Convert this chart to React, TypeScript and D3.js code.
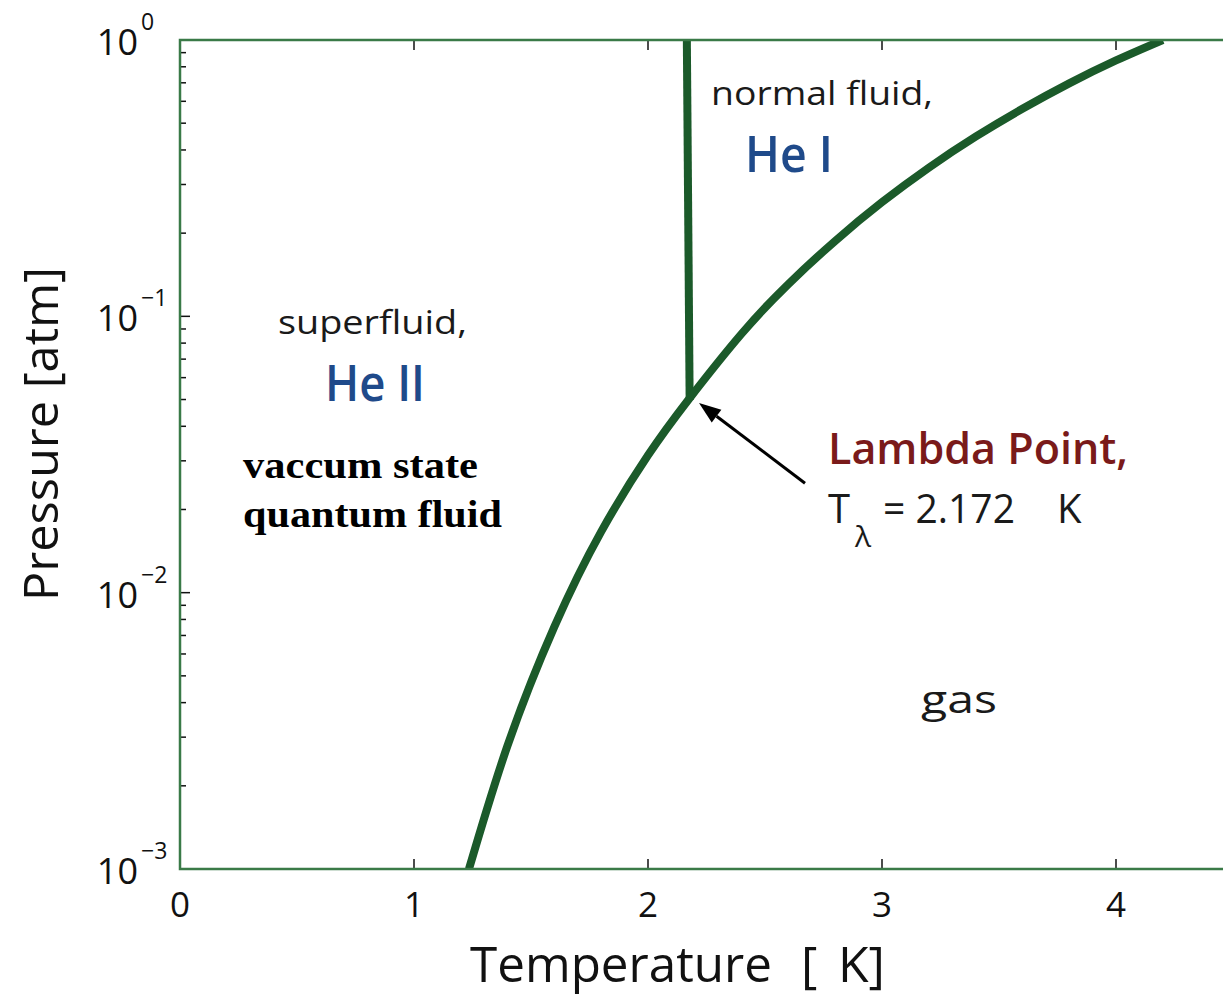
import React from "react";
import * as d3 from "d3";

// Vapor-pressure (liquid/gas) curve of helium-4
const vaporT = [1.235, 1.4, 1.6, 1.8, 2.0, 2.172, 2.4, 2.6, 2.8, 3.0, 3.2, 3.4, 3.6, 3.8, 4.0, 4.2];
const vaporP = [0.001, 0.0028, 0.00753, 0.01663, 0.0314, 0.0498, 0.0865, 0.1309, 0.1875, 0.2588, 0.3451, 0.4467, 0.5636, 0.6966, 0.8433, 1.0];

// Lambda line (He I / He II boundary)
const lambdaT = [2.178, 2.166];
const lambdaP = [0.0498, 1.0];

// Arrow pointing to the lambda point (tail, head)
const arrowT = [2.671, 2.218];
const arrowP = [0.0249, 0.0486];

const xTicks = [0, 1, 2, 3, 4];
const yDecades = [0, -1, -2, -3];

const W = 1223;
const H = 1000;
const LEFT = 180;
const TOP = 40;
const BOTTOM = 869;
const UNIT = 234;

const CURVE = "#1b5a2a";
const FRAME = "#3a7a47";
const SANS = "'Open Sans', 'Noto Sans', sans-serif";

export default function App() {
  const x = d3.scaleLinear().domain([0, 4.5]).range([LEFT, LEFT + 4.5 * UNIT]);
  const y = d3.scaleLog().domain([1e-3, 1]).range([BOTTOM, TOP]);

  const vaporPath =
    d3.line<number>()
      .x((i) => x(vaporT[i]))
      .y((i) => y(vaporP[i]))
      .curve(d3.curveNatural)(vaporT.map((_, i) => i)) || "";

  const lambdaPath =
    d3.line<number>()
      .x((i) => x(lambdaT[i]))
      .y((i) => y(lambdaP[i]))(lambdaT.map((_, i) => i)) || "";

  const minor: number[] = [];
  for (let e = -3; e < 0; e++) {
    for (let m = 2; m <= 9; m++) minor.push(m * Math.pow(10, e));
  }

  const ax0 = x(arrowT[0]);
  const ay0 = y(arrowP[0]);
  const ax1 = x(arrowT[1]);
  const ay1 = y(arrowP[1]);
  const ang = Math.atan2(ay1 - ay0, ax1 - ax0);
  const headLen = 22;
  const headW = 8;
  const bx = ax1 - headLen * Math.cos(ang);
  const by = ay1 - headLen * Math.sin(ang);
  const px = -Math.sin(ang);
  const py = Math.cos(ang);
  const head = `M${ax1},${ay1} L${bx + px * headW},${by + py * headW} L${bx - px * headW},${by - py * headW} Z`;

  return (
    <svg
      width={W}
      height={H}
      style={{ position: "absolute", left: 0, top: 0, background: "#fff" }}
      fontFamily={SANS}
    >
      <defs>
        <clipPath id="plotclip">
          <rect x={LEFT} y={TOP} width={W - LEFT + 20} height={BOTTOM - TOP} />
        </clipPath>
      </defs>
      <rect x={0} y={0} width={W} height={H} fill="#fff" />

      {/* ticks */}
      {xTicks.map((t) => (
        <g key={"xt" + t}>
          <line x1={x(t)} x2={x(t)} y1={BOTTOM} y2={BOTTOM - 10} stroke="#111" strokeWidth={1.5} />
          <line x1={x(t)} x2={x(t)} y1={TOP} y2={TOP + 10} stroke="#111" strokeWidth={1.5} />
          <text x={x(t)} y={917} textAnchor="middle" fontSize={35} fill="#111">
            {t}
          </text>
        </g>
      ))}
      {minor.map((v, i) => (
        <line key={"mn" + i} x1={LEFT} x2={LEFT + 6} y1={y(v)} y2={y(v)} stroke="#111" strokeWidth={1.5} />
      ))}
      {yDecades.map((e) => (
        <g key={"yd" + e}>
          <line x1={LEFT} x2={LEFT + 10} y1={y(Math.pow(10, e))} y2={y(Math.pow(10, e))} stroke="#111" strokeWidth={1.5} />
          <text x={138} y={y(Math.pow(10, e)) + 15} textAnchor="end" fontSize={36} fill="#111">
            10
          </text>
          <text x={141} y={y(Math.pow(10, e)) - 10} textAnchor="start" fontSize={23} fill="#111">
            {e === 0 ? "0" : "\u2212" + Math.abs(e)}
          </text>
        </g>
      ))}

      {/* curves */}
      <g clipPath="url(#plotclip)">
        <path d={lambdaPath} fill="none" stroke={CURVE} strokeWidth={8} />
        <path d={vaporPath} fill="none" stroke={CURVE} strokeWidth={8} strokeLinecap="butt" />
      </g>

      {/* frame */}
      <path
        d={`M${W + 5},${TOP} L${LEFT},${TOP} L${LEFT},${BOTTOM} L${W + 5},${BOTTOM}`}
        fill="none"
        stroke={FRAME}
        strokeWidth={2.5}
      />

      {/* arrow */}
      <line x1={ax0} y1={ay0} x2={bx} y2={by} stroke="#000" strokeWidth={3} />
      <path d={head} fill="#000" />

      {/* labels */}
      <text x={711} y={105} fontSize={32} fill="#1a1a1a" textLength={222} lengthAdjust="spacingAndGlyphs">
        normal fluid,
      </text>
      <text x={745} y={172} fontSize={50} fontWeight={600} fill="#1f4a8a" textLength={88} lengthAdjust="spacingAndGlyphs">
        He I
      </text>
      <text x={278} y={334} fontSize={32} fill="#1a1a1a" textLength={189} lengthAdjust="spacingAndGlyphs">
        superfluid,
      </text>
      <text x={325} y={401} fontSize={50} fontWeight={600} fill="#1f4a8a" textLength={100} lengthAdjust="spacingAndGlyphs">
        He II
      </text>
      <text
        x={243}
        y={478}
        fontSize={37}
        fontWeight="bold"
        fontFamily="'Liberation Serif', 'Times New Roman', serif"
        fill="#000"
        textLength={235}
        lengthAdjust="spacingAndGlyphs"
      >
        vaccum state
      </text>
      <text
        x={243}
        y={527}
        fontSize={37}
        fontWeight="bold"
        fontFamily="'Liberation Serif', 'Times New Roman', serif"
        fill="#000"
        textLength={259}
        lengthAdjust="spacingAndGlyphs"
      >
        quantum fluid
      </text>
      <text x={828} y={464} fontSize={44} fontWeight={600} fill="#7a1a1a" textLength={300} lengthAdjust="spacingAndGlyphs">
        Lambda Point,
      </text>
      <text x={828} y={523} fontSize={40} fill="#1a1a1a">
        T
      </text>
      <text x={855} y={547} fontSize={30} fill="#1a1a1a">
        λ
      </text>
      <text x={883} y={523} fontSize={40} fill="#1a1a1a" textLength={132} lengthAdjust="spacingAndGlyphs">
        = 2.172
      </text>
      <text x={1057} y={523} fontSize={40} fill="#1a1a1a">
        K
      </text>
      <text x={921} y={713} fontSize={38} fill="#1a1a1a" textLength={76} lengthAdjust="spacingAndGlyphs">
        gas
      </text>

      {/* axis titles */}
      <text x={470} y={982} fontSize={50} fill="#111" textLength={302} lengthAdjust="spacingAndGlyphs">
        Temperature
      </text>
      <text x={801} y={982} fontSize={50} fill="#111">
        [
      </text>
      <text x={838} y={982} fontSize={50} fill="#111">
        K]
      </text>
      <text
        transform="translate(58,434) rotate(-90)"
        textAnchor="middle"
        fontSize={48}
        fill="#111"
        textLength={334}
        lengthAdjust="spacingAndGlyphs"
      >
        Pressure [atm]
      </text>
    </svg>
  );
}
